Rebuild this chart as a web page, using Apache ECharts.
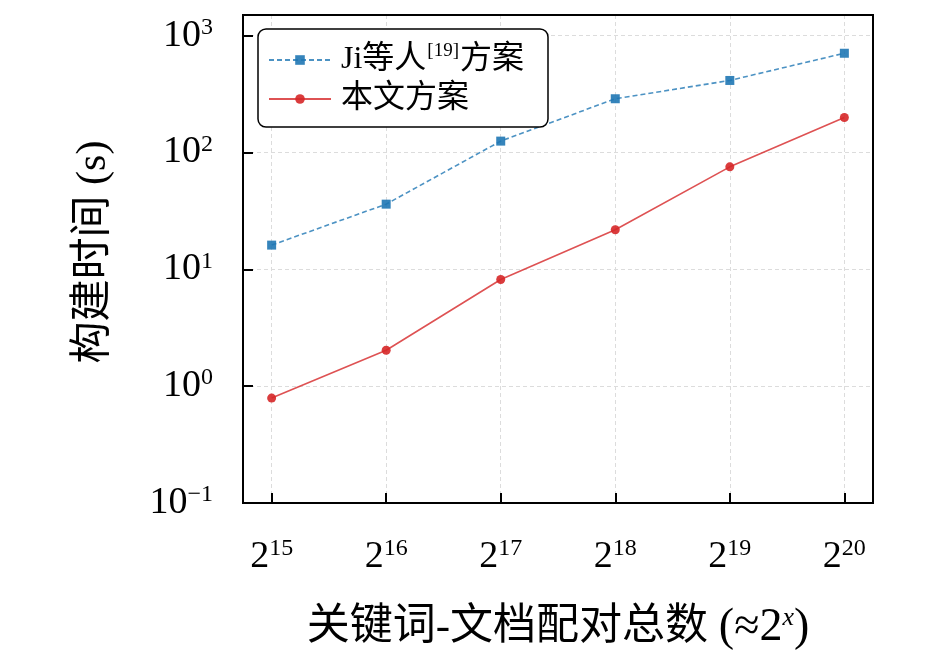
<!DOCTYPE html>
<html>
<head>
<meta charset="utf-8">
<script src="https://cdn.jsdelivr.net/npm/echarts@6/dist/echarts.min.js"></script>
<style>
  html, body { margin: 0; padding: 0; background: #fff; }
  #chart { width: 945px; height: 656px; }
</style>
</head>
<body>
<div id="chart"></div>
<script>
// x 轴：关键词-文档配对总数的指数 (2^x)
const sizeExponents = [15, 16, 17, 18, 19, 20];
// 构建时间 (s)
const jiTimes = [16.1, 36.1, 125, 288, 413, 706];
const oursTimes = [0.79, 2.03, 8.17, 21.8, 75.3, 199];
const seriesNames = ['Ji等人[19]方案', '本文方案'];

const SERIF = '"Liberation Serif", "DejaVu Serif", serif';
const CJK = '"Liberation Serif", "Noto Sans CJK SC", sans-serif';

const X_MIN = 14.75, X_MAX = 20.25;
const Y_MIN = 0.1, Y_MAX = 1500;

const chart = echarts.init(document.getElementById('chart'));

const toPairs = (arr) => arr.map((v, i) => [sizeExponents[i], v]);

const frameLine = { show: true, lineStyle: { color: '#000', width: 2 } };
const gridDash = { show: true, lineStyle: { color: '#dcdcdc', width: 1, type: [4, 3] } };

const option = {
  animation: false,
  backgroundColor: '#fff',
  grid: {
    left: 243, right: 72, top: 15, bottom: 152,
    show: true, borderColor: '#000', borderWidth: 2,
    containLabel: false
  },
  legend: {
    orient: 'vertical',
    left: 258, top: 29,
    padding: [13, 24, 12, 10],
    itemGap: 7,
    itemWidth: 62, itemHeight: 12,
    backgroundColor: '#fff',
    borderColor: '#000', borderWidth: 1.5, borderRadius: 8,
    data: seriesNames,
    formatter: (name) => name === seriesNames[0]
      ? '{t|Ji等人}{s|[19]}{t|方案}'
      : '{t|本文方案}',
    textStyle: {
      padding: [0, 0, 0, 5],
      rich: {
        t: { fontSize: 32, fontFamily: CJK, color: '#000', lineHeight: 36 },
        s: { fontSize: 19, fontFamily: SERIF, color: '#000', verticalAlign: 'top', lineHeight: 36, padding: [0, 1, 0, 1] }
      }
    }
  },
  xAxis: [
    {
      type: 'value',
      min: X_MIN, max: X_MAX,
      name: '关键词-文档配对总数 {p|(≈2}{x|x}{p|)}',
      nameLocation: 'middle',
      nameGap: 102,
      nameTextStyle: {
        fontSize: 43, fontFamily: CJK, color: '#000',
        rich: {
          p: { fontSize: 46, fontFamily: SERIF, color: '#000' },
          x: { fontSize: 26, fontFamily: SERIF, fontStyle: 'italic', color: '#000', verticalAlign: 'top' }
        }
      },
      axisLine: frameLine,
      axisTick: {
        show: true, inside: true, length: 10,
        lineStyle: { color: '#000', width: 2 },
        customValues: sizeExponents
      },
      axisLabel: {
        customValues: sizeExponents,
        margin: 34,
        formatter: (v) => '{b|2}{s|' + v + '}',
        rich: {
          b: { fontSize: 38, fontFamily: SERIF, color: '#000', lineHeight: 40 },
          s: { fontSize: 24, fontFamily: SERIF, color: '#000', verticalAlign: 'top', lineHeight: 40 }
        }
      },
      splitLine: gridDash
    },
    {
      // top spine
      type: 'value', position: 'top',
      min: X_MIN, max: X_MAX,
      axisLine: frameLine,
      axisTick: { show: false },
      axisLabel: { show: false },
      splitLine: { show: false }
    }
  ],
  yAxis: [
    {
      type: 'log',
      logBase: 10,
      min: Y_MIN, max: Y_MAX,
      name: '构建时间 (s)',
      nameLocation: 'middle',
      nameGap: 128,
      nameTextStyle: { fontSize: 42, fontFamily: CJK, color: '#000', padding: [0, 0, 0, 14] },
      axisLine: frameLine,
      axisTick: {
        show: true, inside: true, length: 10,
        lineStyle: { color: '#000', width: 2 }
      },
      minorTick: { show: false },
      axisLabel: {
        margin: 30,
        formatter: (v) => {
          const e = Math.log10(v);
          const r = Math.round(e);
          if (Math.abs(e - r) > 1e-6) return '';
          return '{b|10}{s|' + (r < 0 ? '−' + (-r) : r) + '}';
        },
        rich: {
          b: { fontSize: 38, fontFamily: SERIF, color: '#000', lineHeight: 40 },
          s: { fontSize: 24, fontFamily: SERIF, color: '#000', verticalAlign: 'top', lineHeight: 40 }
        }
      },
      splitLine: gridDash
    },
    {
      // right spine
      type: 'log', position: 'right',
      logBase: 10,
      min: Y_MIN, max: Y_MAX,
      axisLine: frameLine,
      axisTick: { show: false },
      axisLabel: { show: false },
      splitLine: { show: false }
    }
  ],
  series: [
    {
      name: seriesNames[0],
      type: 'line',
      data: toPairs(jiTimes),
      symbol: 'rect',
      symbolSize: 9,
      lineStyle: { color: '#1f77b4', width: 1.6, type: [5, 3], opacity: 0.8 },
      itemStyle: { color: '#1f77b4', opacity: 0.9 },
      z: 3
    },
    {
      name: seriesNames[1],
      type: 'line',
      data: toPairs(oursTimes),
      symbol: 'circle',
      symbolSize: 9,
      lineStyle: { color: '#d62728', width: 1.6, opacity: 0.8 },
      itemStyle: { color: '#d62728', opacity: 0.9 },
      z: 3
    }
  ]
};

chart.setOption(option);
window.addEventListener('resize', () => chart.resize());
</script>
</body>
</html>
